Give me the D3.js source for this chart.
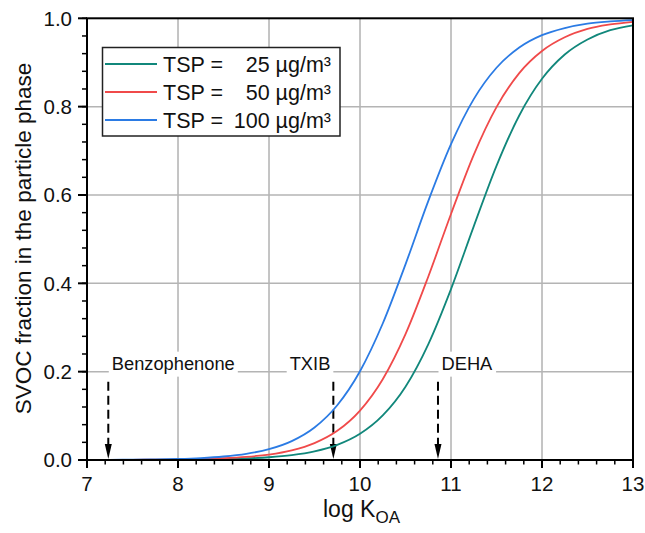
<!DOCTYPE html>
<html>
<head>
<meta charset="utf-8">
<script src="https://cdn.jsdelivr.net/npm/d3@7"></script>
<style>
  html, body { margin: 0; padding: 0; background: #fff; }
  svg { display: block; font-family: "Liberation Sans", Arial, Helvetica, sans-serif; }
</style>
</head>
<body>
<svg id="chart" width="645" height="533"></svg>
<script>
// ---- data ----
const logKOA = [7, 7.25, 7.5, 7.75, 8, 8.25, 8.5, 8.75, 9, 9.25, 9.5, 9.75, 10,
                10.25, 10.5, 10.75, 11, 11.25, 11.5, 11.75, 12, 12.25, 12.5, 12.75, 13];
const tsp25 = [0.000063, 0.000112, 0.0002, 0.000355, 0.00063, 0.00112, 0.00199, 0.00354, 0.00627,
               0.0111, 0.0196, 0.0343, 0.0594, 0.101, 0.166, 0.262, 0.387, 0.529, 0.666,
               0.780, 0.863, 0.918, 0.952, 0.973, 0.984];
const tsp50 = [0.000126, 0.000224, 0.000398, 0.000707, 0.00126, 0.00223, 0.00397, 0.00703, 0.0124,
               0.0219, 0.0383, 0.0661, 0.112, 0.183, 0.285, 0.415, 0.557, 0.691, 0.799,
               0.876, 0.926, 0.957, 0.976, 0.986, 0.992];
const tsp100 = [0.000251, 0.000447, 0.000794, 0.00141, 0.00251, 0.00445, 0.00788, 0.0139, 0.0245,
                0.0428, 0.0736, 0.124, 0.201, 0.309, 0.443, 0.586, 0.715, 0.817, 0.888,
                0.934, 0.962, 0.978, 0.988, 0.993, 0.996];
const seriesNames = ["25", "50", "100"];
const seriesColors = ["#11877b", "#f04a4a", "#2b7be4"];
const xTicks = [7, 8, 9, 10, 11, 12, 13];
const yTicks = [0.0, 0.2, 0.4, 0.6, 0.8, 1.0];
const compounds = ["Benzophenone", "TXIB", "DEHA"];
const compoundLogK = [7.234, 9.707, 10.857];
const compoundLabelSide = ["right", "left", "right"];
const arrowTop = 0.177;
const labelY = 0.2;

// ---- layout ----
const svg = d3.select("#chart");
const M = { left: 87, right: 633, top: 18.3, bottom: 460 };
const x = d3.scaleLinear().domain([7, 13]).range([M.left, M.right]);
const y = d3.scaleLinear().domain([0, 1]).range([M.bottom, M.top]);

// gridlines
const grid = svg.append("g");
grid.selectAll("line.vg").data(xTicks.slice(1, -1)).join("line")
  .attr("x1", d => x(d)).attr("x2", d => x(d))
  .attr("y1", M.top).attr("y2", M.bottom)
  .attr("stroke", "#8a8a8a").attr("stroke-width", 1);
grid.selectAll("line.hg").data(yTicks.slice(1, -1)).join("line")
  .attr("x1", M.left).attr("x2", M.right)
  .attr("y1", d => y(d)).attr("y2", d => y(d))
  .attr("stroke", "#b4b4b4").attr("stroke-width", 1.5);

// annotations (label boxes cover the grid line)
const annFont = 18.3;
compounds.forEach((name, i) => {
  const ax = x(compoundLogK[i]);
  const side = compoundLabelSide[i];
  const g = svg.append("g");
  const t = g.append("text")
    .attr("x", side === "right" ? ax + 3.5 : ax - 3)
    .attr("y", y(labelY) - 2)
    .attr("text-anchor", side === "right" ? "start" : "end")
    .attr("font-size", annFont)
    .attr("fill", "#111")
    .text(name);
  const bb = t.node().getBBox();
  g.insert("rect", "text")
    .attr("x", bb.x - 3).attr("y", bb.y - 1)
    .attr("width", bb.width + 6).attr("height", bb.height + 4)
    .attr("fill", "#fff");
  // dashed arrow
  svg.append("line")
    .attr("x1", ax).attr("x2", ax)
    .attr("y1", y(arrowTop)).attr("y2", y(0) - 14)
    .attr("stroke", "#000").attr("stroke-width", 2)
    .attr("stroke-dasharray", "9,5");
  svg.append("path")
    .attr("d", `M${ax - 3.5},${y(0) - 16} L${ax + 3.5},${y(0) - 16} L${ax},${y(0) - 1} Z`)
    .attr("fill", "#000");
});

// curves
const allSeries = [tsp25, tsp50, tsp100];
const line = d3.line()
  .x((d, i) => x(logKOA[i]))
  .y(d => y(d))
  .curve(d3.curveMonotoneX);
allSeries.forEach((vals, k) => {
  svg.append("path")
    .datum(vals)
    .attr("d", line)
    .attr("fill", "none")
    .attr("stroke", seriesColors[k])
    .attr("stroke-width", 1.8);
});

// frame
svg.append("rect")
  .attr("x", M.left).attr("y", M.top)
  .attr("width", M.right - M.left).attr("height", M.bottom - M.top)
  .attr("fill", "none").attr("stroke", "#000").attr("stroke-width", 2);

// x axis ticks
const xMinor = d3.range(7, 13.001, 0.2);
svg.append("g").selectAll("line").data(xMinor).join("line")
  .attr("x1", d => x(d)).attr("x2", d => x(d))
  .attr("y1", M.bottom).attr("y2", M.bottom + 4.5)
  .attr("stroke", "#000").attr("stroke-width", 1.5);
svg.append("g").selectAll("line").data(xTicks).join("line")
  .attr("x1", d => x(d)).attr("x2", d => x(d))
  .attr("y1", M.bottom).attr("y2", M.bottom + 8)
  .attr("stroke", "#000").attr("stroke-width", 2);
svg.append("g").selectAll("text").data(xTicks).join("text")
  .attr("x", d => x(d)).attr("y", 490.5)
  .attr("text-anchor", "middle").attr("font-size", 20.5).attr("fill", "#111")
  .text(d => d);

// y axis ticks
const yMinor = d3.range(0, 1.0001, 0.04);
svg.append("g").selectAll("line").data(yMinor).join("line")
  .attr("x1", M.left - 5).attr("x2", M.left)
  .attr("y1", d => y(d)).attr("y2", d => y(d))
  .attr("stroke", "#000").attr("stroke-width", 1.5);
svg.append("g").selectAll("line").data(yTicks).join("line")
  .attr("x1", M.left - 9).attr("x2", M.left)
  .attr("y1", d => y(d)).attr("y2", d => y(d))
  .attr("stroke", "#000").attr("stroke-width", 2);
svg.append("g").selectAll("text").data(yTicks).join("text")
  .attr("x", 72).attr("y", d => y(d) + 7.3)
  .attr("text-anchor", "end").attr("font-size", 20.5).attr("fill", "#111")
  .text(d => d.toFixed(1));

// axis titles
const xt = svg.append("text")
  .attr("x", 323).attr("y", 517)
  .attr("font-size", 23).attr("fill", "#111");
xt.append("tspan").text("log K");
xt.append("tspan").attr("dy", 6).attr("font-size", 17).text("OA");

svg.append("text")
  .attr("transform", `translate(30.5,${(60 + 417) / 2}) rotate(-90)`)
  .attr("text-anchor", "middle").attr("font-size", 22.5).attr("fill", "#111")
  .text("SVOC fraction in the particle phase");

// legend
const lg = svg.append("g");
lg.append("rect")
  .attr("x", 102.5).attr("y", 47.5).attr("width", 237.5).attr("height", 88.5)
  .attr("fill", "#fff").attr("stroke", "#222").attr("stroke-width", 1.5);
seriesNames.forEach((n, i) => {
  const cy = 64 + i * 28;
  lg.append("line")
    .attr("x1", 105).attr("x2", 157).attr("y1", cy).attr("y2", cy)
    .attr("stroke", seriesColors[i]).attr("stroke-width", 1.8);
  lg.append("text").attr("x", 163).attr("y", cy + 7.7)
    .attr("font-size", 21.5).attr("fill", "#111").text("TSP =");
  lg.append("text").attr("x", 331).attr("y", cy + 7.7)
    .attr("text-anchor", "end")
    .attr("font-size", 21.5).attr("fill", "#111").text(n + " µg/m³");
});
</script>
</body>
</html>
